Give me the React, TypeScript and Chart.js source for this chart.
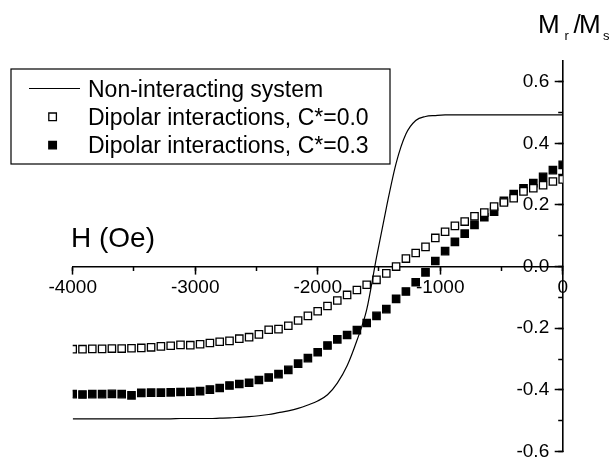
import React, { useEffect, useRef } from 'react';
import { Chart, registerables } from 'chart.js';

Chart.register(...registerables);

// Applied field H (Oe)
const fieldOe = [
  -4000, -3920, -3840, -3760, -3680, -3600, -3520, -3440, -3360, -3280,
  -3200, -3120, -3040, -2960, -2880, -2800, -2720, -2640, -2560, -2480,
  -2400, -2320, -2240, -2160, -2080, -2000, -1920, -1840, -1760, -1680,
  -1600, -1520, -1440, -1360, -1280, -1200, -1120, -1040, -960, -880,
  -800, -720, -640, -560, -480, -400, -320, -240, -160, -80, 0,
];

// Mr/Ms, non-interacting system (solid line)
const nonInteracting = [
  -0.494, -0.494, -0.494, -0.494, -0.494, -0.494, -0.494, -0.494, -0.494, -0.494,
  -0.494, -0.493, -0.493, -0.493, -0.493, -0.492, -0.491, -0.489, -0.487, -0.484,
  -0.48, -0.474, -0.468, -0.46, -0.449, -0.436, -0.416, -0.378, -0.322, -0.24,
  -0.14, 0.03, 0.19, 0.335, 0.43, 0.474, 0.487, 0.49, 0.492, 0.492,
  0.492, 0.492, 0.492, 0.492, 0.492, 0.492, 0.492, 0.492, 0.492, 0.492, 0.492,
];

// Mr/Ms, dipolar interactions C*=0.0 (open squares)
const dipolarC00 = [
  -0.268, -0.268, -0.267, -0.267, -0.266, -0.266, -0.265, -0.264, -0.262, -0.259,
  -0.257, -0.254, -0.255, -0.252, -0.248, -0.244, -0.241, -0.234, -0.229, -0.22,
  -0.205, -0.203, -0.192, -0.175, -0.16, -0.145, -0.128, -0.11, -0.092, -0.076,
  -0.059, -0.043, -0.022, 0.0, 0.026, 0.044, 0.064, 0.093, 0.113, 0.132,
  0.146, 0.163, 0.175, 0.195, 0.208, 0.222, 0.244, 0.254, 0.264, 0.276, 0.283,
];

// Mr/Ms, dipolar interactions C*=0.3 (filled squares)
const dipolarC03 = [
  -0.414, -0.415, -0.414, -0.414, -0.413, -0.414, -0.418, -0.41, -0.409, -0.409,
  -0.408, -0.407, -0.406, -0.404, -0.399, -0.394, -0.386, -0.381, -0.377, -0.368,
  -0.36, -0.349, -0.335, -0.315, -0.297, -0.278, -0.256, -0.236, -0.222, -0.206,
  -0.183, -0.16, -0.138, -0.105, -0.081, -0.051, -0.019, 0.018, 0.05, 0.08,
  0.107, 0.135, 0.16, 0.178, 0.213, 0.235, 0.254, 0.271, 0.291, 0.313, 0.33,
];

const seriesLabels = [
  'Non-interacting system',
  'Dipolar interactions, C*=0.0',
  'Dipolar interactions, C*=0.3',
];

const xMajorTicks = [-4000, -3000, -2000, -1000, 0];
const xMinorTicks = [-4000, -3500, -3000, -2500, -2000, -1500, -1000, -500, 0];
const yMajorTicks = [-0.6, -0.4, -0.2, 0.0, 0.2, 0.4, 0.6];
const yMinorTicks = [-0.6, -0.5, -0.4, -0.3, -0.2, -0.1, 0.0, 0.1, 0.2, 0.3, 0.4, 0.5, 0.6];
const xRange = [-4000, 0];
const yRange = [-0.6, 0.667];

const xTitle = 'H (Oe)';
const yTitleMain = 'M';
const yTitleSub1 = 'r';
const yTitleSub2 = 's';

const FONT = '"Liberation Sans", Arial, Helvetica, sans-serif';

const toPoints = (ys: number[]) => fieldOe.map((x, i) => ({ x, y: ys[i] }));

const zeroFit = (s: any, horizontal: boolean) => {
  if (horizontal) s.height = 0; else s.width = 0;
  s.paddingTop = 0;
  s.paddingBottom = 0;
  s.paddingLeft = 0;
  s.paddingRight = 0;
};

const legendPlugin = {
  id: 'boxLegend',
  afterDraw(chart: any) {
    const ctx: CanvasRenderingContext2D = chart.ctx;
    ctx.save();
    ctx.strokeStyle = '#000';
    ctx.lineWidth = 1.2;
    ctx.strokeRect(11, 69, 379, 95);
    const symY = [88.5, 116.8, 145.1];
    const baseY = [96.7, 125, 153.3];
    chart.data.datasets.forEach((ds: any, i: number) => {
      ctx.save();
      if (ds.showLine) {
        ctx.strokeStyle = ds.borderColor;
        ctx.lineWidth = ds.borderWidth;
        ctx.beginPath();
        ctx.moveTo(29, symY[i]);
        ctx.lineTo(80, symY[i]);
        ctx.stroke();
      } else {
        const s = 7.6;
        ctx.fillStyle = ds.backgroundColor;
        ctx.strokeStyle = ds.borderColor;
        ctx.lineWidth = ds.borderWidth;
        ctx.beginPath();
        ctx.rect(52.6 - s / 2, symY[i] - s / 2, s, s);
        ctx.fill();
        ctx.stroke();
      }
      ctx.fillStyle = '#000';
      ctx.font = `23px ${FONT}`;
      ctx.textBaseline = 'alphabetic';
      ctx.textAlign = 'left';
      ctx.fillText(ds.label, 88, baseY[i]);
      ctx.restore();
    });
    ctx.restore();
  },
};

const titlesPlugin = {
  id: 'axisTitles',
  afterDraw(chart: any) {
    const ctx: CanvasRenderingContext2D = chart.ctx;
    ctx.save();
    ctx.fillStyle = '#000';
    ctx.textBaseline = 'alphabetic';
    ctx.textAlign = 'left';
    ctx.font = `28px ${FONT}`;
    ctx.fillText(xTitle, 71, 246.7);
    // y title: M_r / M_s
    ctx.font = `26px ${FONT}`;
    ctx.fillText(yTitleMain, 538, 33.3);
    ctx.font = `13px ${FONT}`;
    ctx.fillText(yTitleSub1, 564.5, 39.5);
    ctx.font = `26px ${FONT}`;
    ctx.fillText('/', 573.5, 33.3);
    ctx.fillText(yTitleMain, 579, 33.3);
    ctx.font = `13px ${FONT}`;
    ctx.fillText(yTitleSub2, 603, 39.5);
    ctx.restore();
  },
};

export default function App() {
  const canvasRef = useRef<HTMLCanvasElement | null>(null);

  useEffect(() => {
    const canvas = canvasRef.current;
    if (!canvas) return;

    const tickFont = { family: FONT, size: 19 };

    const xBase = (ticks: number[], len: number, showLabels: boolean, showBorder: boolean) => ({
      type: 'linear',
      axis: 'x',
      min: xRange[0],
      max: xRange[1],
      bounds: 'data',
      position: { y: 0 },
      afterFit: (s: any) => zeroFit(s, true),
      afterBuildTicks: (s: any) => { s.ticks = ticks.map((v) => ({ value: v })); },
      grid: { drawOnChartArea: false, drawTicks: true, tickLength: len, tickWidth: 1.5, tickColor: '#000' },
      border: { display: showBorder, color: '#000', width: 1.6 },
      ticks: {
        display: showLabels,
        color: '#000',
        font: tickFont,
        padding: 3,
        autoSkip: false,
        maxRotation: 0,
        callback: (v: any) => String(v),
      },
    });

    const yBase = (ticks: number[], len: number, showLabels: boolean, showBorder: boolean) => ({
      type: 'linear',
      axis: 'y',
      min: yRange[0],
      max: yRange[1],
      bounds: 'data',
      position: 'right',
      afterFit: (s: any) => zeroFit(s, false),
      afterBuildTicks: (s: any) => { s.ticks = ticks.map((v) => ({ value: v })); },
      grid: { drawOnChartArea: false, drawTicks: true, tickLength: -len, tickWidth: 1.5, tickColor: '#000' },
      border: { display: showBorder, color: '#000', width: 1.6 },
      ticks: {
        display: showLabels,
        mirror: true,
        color: '#000',
        font: tickFont,
        padding: -13.5,
        autoSkip: false,
        callback: (v: any) => Number(v).toFixed(1),
      },
    });

    const chart = new Chart(canvas, {
      type: 'scatter',
      data: {
        datasets: [
          {
            label: seriesLabels[0],
            data: toPoints(nonInteracting),
            showLine: true,
            borderColor: '#000',
            backgroundColor: '#000',
            borderWidth: 1.2,
            pointRadius: 0,
            cubicInterpolationMode: 'monotone',
            fill: false,
            clip: 0,
          },
          {
            label: seriesLabels[1],
            data: toPoints(dipolarC00),
            showLine: false,
            pointStyle: 'rect',
            pointRadius: 5.2,
            backgroundColor: '#fff',
            borderColor: '#000',
            borderWidth: 1.3,
            clip: 0,
          },
          {
            label: seriesLabels[2],
            data: toPoints(dipolarC03),
            showLine: false,
            pointStyle: 'rect',
            pointRadius: 5.2,
            backgroundColor: '#000',
            borderColor: '#000',
            borderWidth: 1.3,
            clip: 0,
          },
        ],
      },
      options: {
        responsive: false,
        animation: false,
        devicePixelRatio: 1,
        layout: { padding: { left: 72.7, right: 48.3, top: 61, bottom: 6.3 } },
        plugins: {
          legend: { display: false },
          tooltip: { enabled: false },
          title: { display: false },
        },
        scales: {
          x: xBase(xMajorTicks, 7, true, true),
          xMinor: xBase(xMinorTicks, 4, false, false),
          y: yBase(yMajorTicks, 8, true, true),
          yMinor: yBase(yMinorTicks, 4.5, false, false),
        } as any,
      },
      plugins: [legendPlugin, titlesPlugin],
    } as any);

    return () => chart.destroy();
  }, []);

  return (
    <canvas
      ref={canvasRef}
      width={611}
      height={458}
      style={{ position: 'absolute', left: 0, top: 0, width: 611, height: 458, background: '#fff' }}
    />
  );
}
